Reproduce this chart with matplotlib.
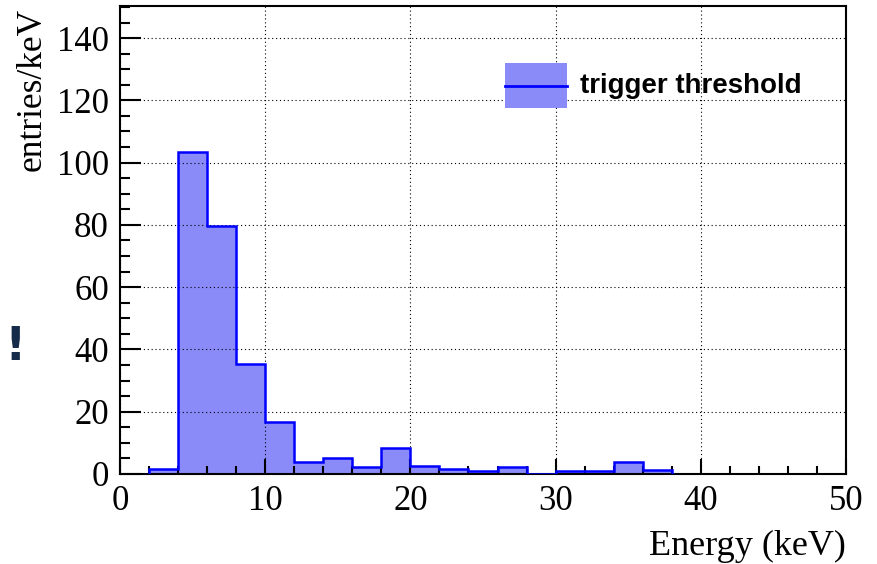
import matplotlib
matplotlib.use("Agg")
import matplotlib.pyplot as plt
import numpy as np
from matplotlib.patches import Rectangle
from matplotlib.lines import Line2D
from matplotlib.ticker import MultipleLocator

# Energy spectrum, 2 keV bins
bin_edges = [2, 4, 6, 8, 10, 12, 14, 16, 18, 20, 22, 24, 26, 28, 30, 32, 34, 36, 38]
entries_per_kev = [1.7, 103.3, 79.8, 35.4, 16.6, 3.9, 5.1, 2.1, 8.5, 2.6, 1.5,
                   1.0, 2.3, 0.0, 1.0, 1.0, 4.0, 1.3]
x_ticks = [0, 10, 20, 30, 40, 50]
y_ticks = [0, 20, 40, 60, 80, 100, 120, 140]
legend_label = "trigger threshold"

fill_color = "#8a8af8"
line_color = "#0000ff"
serif = ["Liberation Serif", "DejaVu Serif"]

W, H = 877, 564
fig = plt.figure(figsize=(W / 100, H / 100), dpi=100)
ax = fig.add_axes([120 / W, 90 / H, 726 / W, 468 / H])

ax.stairs(entries_per_kev, bin_edges, baseline=0, fill=True,
          color=fill_color, lw=0, zorder=2)
ax.stairs(entries_per_kev, bin_edges, baseline=0, fill=False,
          color=line_color, lw=1.8, zorder=3)

ax.set_xlim(0, 50)
ax.set_ylim(0, 150.3)
ax.set_xticks(x_ticks)
ax.set_yticks(y_ticks)
ax.xaxis.set_minor_locator(MultipleLocator(2))
ax.yaxis.set_minor_locator(MultipleLocator(5))

ax.grid(True, which="major", color="black", linestyle=(0, (1, 2.5)),
        linewidth=0.8, zorder=4)
ax.set_axisbelow(False)

ax.tick_params(axis="both", which="both", direction="in", top=False,
               right=False, color="black", width=1.5)
ax.tick_params(axis="y", which="major", length=15, pad=8)
ax.tick_params(axis="y", which="minor", length=7.5)
ax.tick_params(axis="x", which="major", length=10.5, pad=8)
ax.tick_params(axis="x", which="minor", length=5.5)
for lab in ax.get_xticklabels() + ax.get_yticklabels():
    lab.set_fontfamily(serif)
    lab.set_fontsize(25)
for s in ax.spines.values():
    s.set_linewidth(1.5)

fig.text(32 / W, 1 - 8 / H, "entries/keV", rotation=90, ha="center",
         va="top", fontfamily=serif, fontsize=25.5)
fig.text(846 / W, 1 - 546 / H, "Energy (keV)", ha="right", va="center",
         fontfamily=serif, fontsize=26)

# Legend entry: filled box with the outline colour running through its middle
fig.add_artist(Rectangle((505 / W, 1 - 108 / H), 62 / W, 45 / H,
                         transform=fig.transFigure, facecolor=fill_color,
                         edgecolor="none"))
fig.add_artist(Line2D([505 / W, 567 / W], [1 - 85.5 / H, 1 - 85.5 / H],
                      transform=fig.transFigure, color=line_color, lw=2))
fig.text(580 / W, 1 - 85.5 / H, legend_label, ha="left", va="center",
         fontfamily=["Liberation Sans", "DejaVu Sans"], fontweight="bold",
         fontsize=20)

fig.text(4 / W, 1 - 347 / H, "!", ha="left", va="center",
         fontsize=34, fontweight="bold", color="#162a4a",
         fontfamily=["DejaVu Sans"])

fig.savefig("out.png", dpi=100)
